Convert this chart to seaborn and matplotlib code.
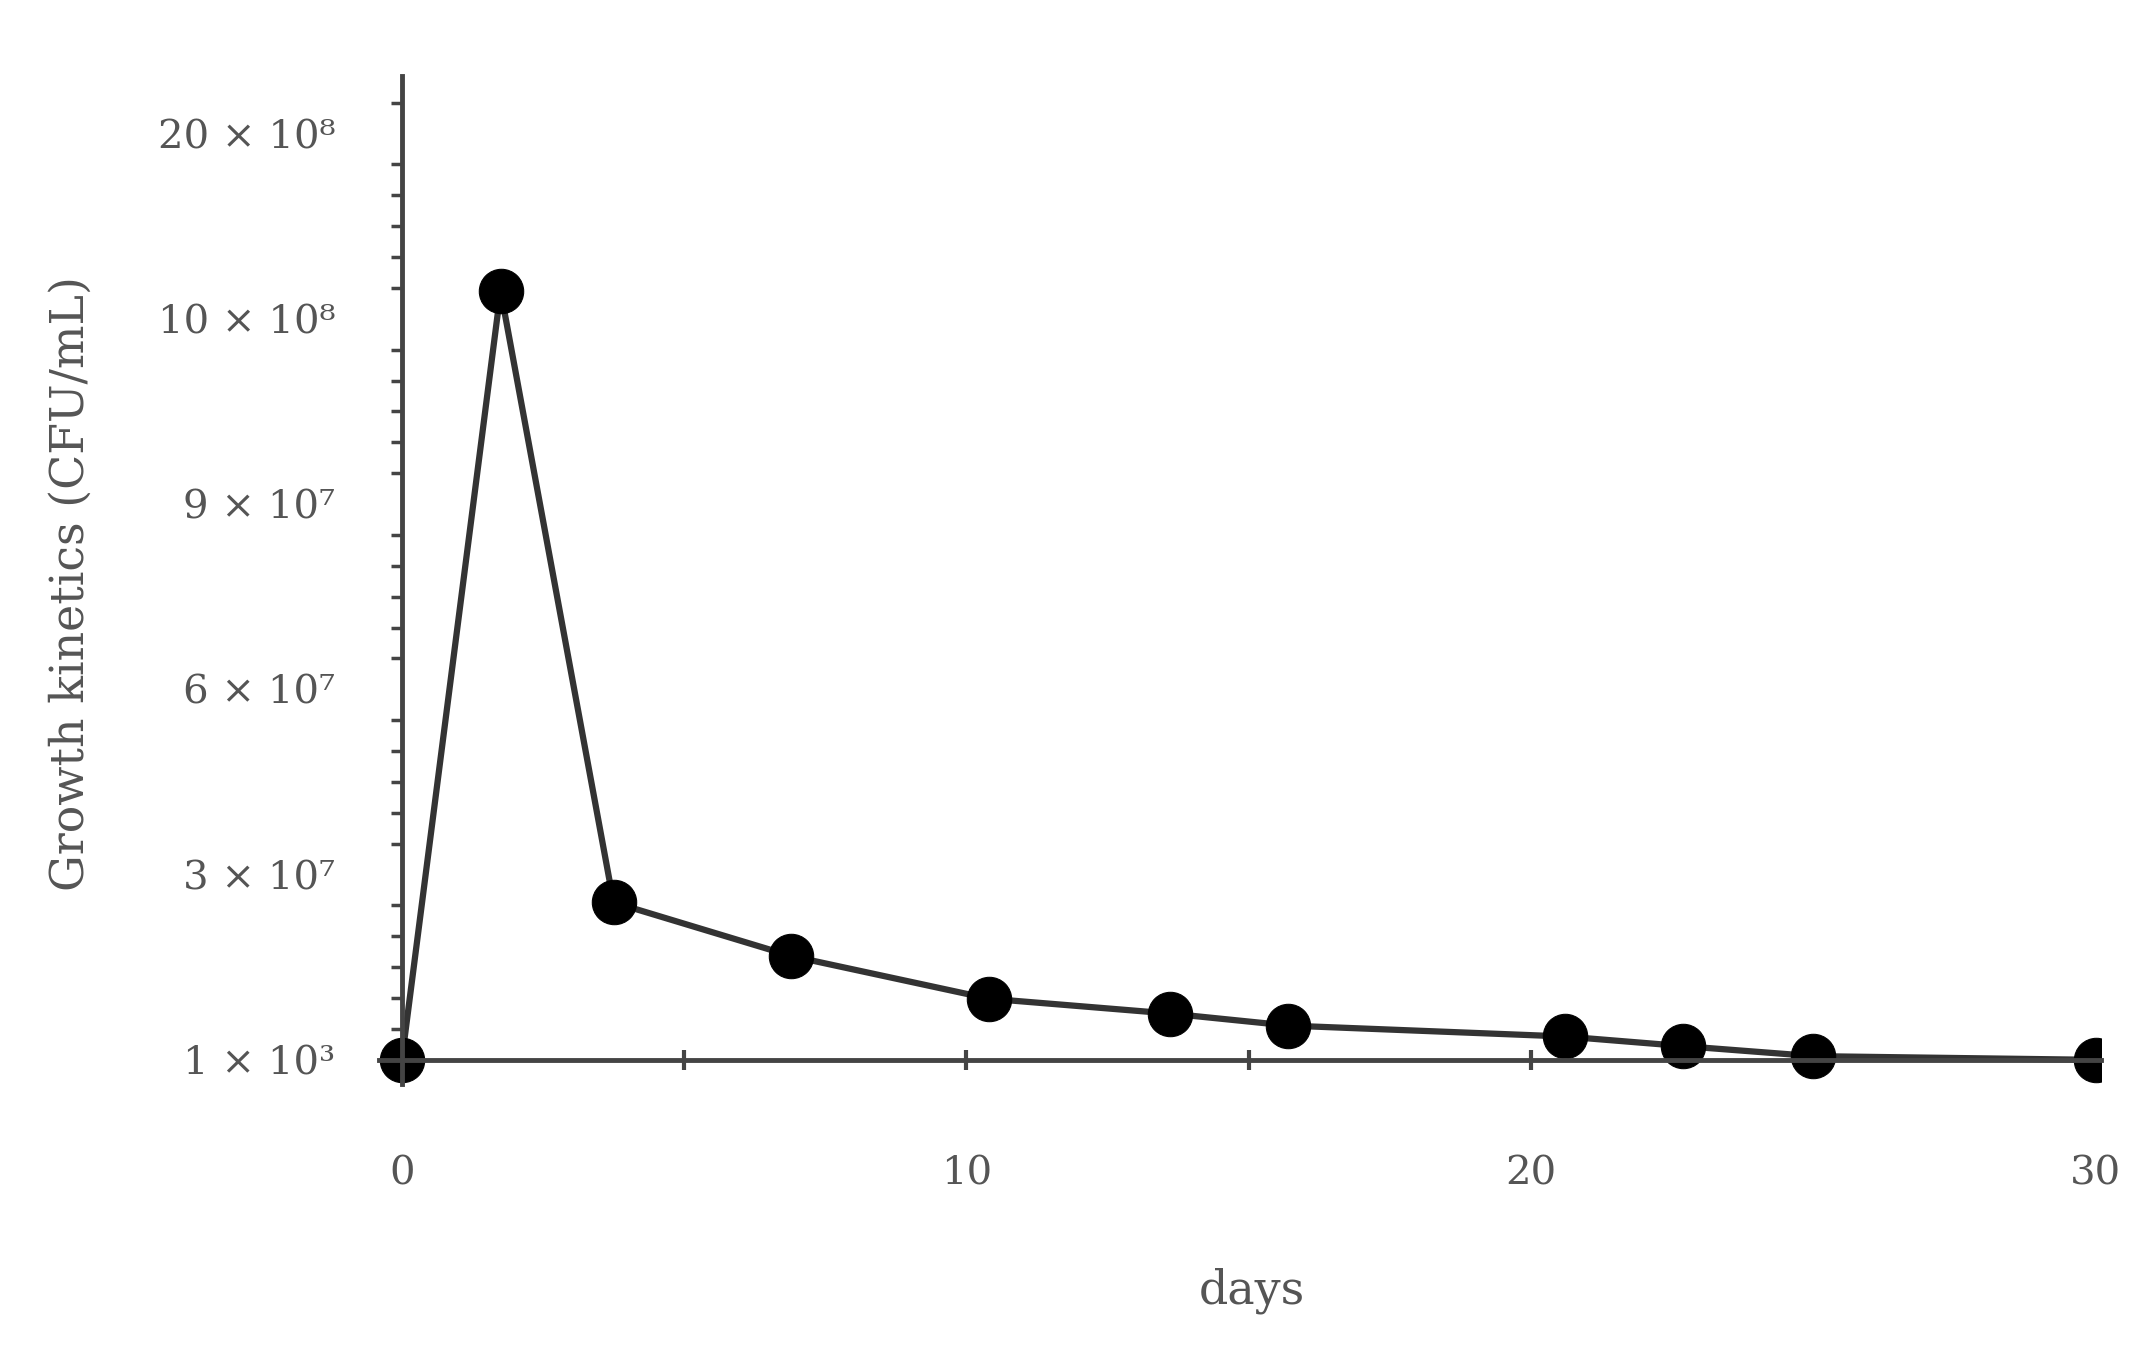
import matplotlib
matplotlib.use("Agg")
import matplotlib.pyplot as plt
import seaborn as sns
import pandas as pd
import numpy as np

days = [0, 1.75, 3.75, 6.9, 10.4, 13.6, 15.7, 20.6, 22.7, 25.0, 30]
level = [0, 4.15, 0.85, 0.56, 0.33, 0.25, 0.185, 0.126, 0.074, 0.02, 0]
ytick_labels = ["1 × 10³", "3 × 10⁷", "6 × 10⁷", "9 × 10⁷", "10 × 10⁸", "20 × 10⁸"]
xtick_labels = ["0", "10", "20", "30"]

sns.set_style("white")
plt.rcParams['font.family'] = ['DejaVu Serif']
grey = "#555555"

fig = plt.figure(figsize=(21.42, 13.59), dpi=100)
ax = fig.add_axes([0.176, 0.202, 0.805, 0.742])
df = pd.DataFrame({"days": days, "level": level})
sns.lineplot(data=df, x="days", y="level", ax=ax, color="#333333", linewidth=4.5,
             marker="o", markersize=32, markeredgecolor="black", markerfacecolor="black")

ax.set_xlim(-0.44, 30.1)
ax.set_ylim(-0.133, 5.31)
for s in ["top", "right"]:
    ax.spines[s].set_visible(False)
ax.spines["bottom"].set_position(("data", 0))
ax.spines["left"].set_position(("data", 0))
ax.spines["bottom"].set_bounds(-0.4, 30.1)
for s in ["bottom", "left"]:
    ax.spines[s].set_color("#444444")
    ax.spines[s].set_linewidth(3.5)

ax.set_yticks(range(6))
ax.set_yticklabels(ytick_labels, fontsize=29, color=grey)
ax.set_yticks(np.arange(0, 5.31, 1/6), minor=True)
ax.tick_params(axis="y", which="major", direction="out", length=10, width=3, color="#444444", pad=38)
ax.tick_params(axis="y", which="minor", direction="out", length=8, width=2.5, color="#444444", left=True)

ax.set_xticks([0, 10, 20, 30])
ax.set_xticklabels(xtick_labels, fontsize=29, color=grey)
ax.set_xticks([5, 15, 25], minor=True)
ax.tick_params(axis="x", which="both", direction="inout", length=14, width=3, color="#444444",
               pad=62, bottom=True)

ax.set_xlabel("")
ax.set_ylabel("")
fig.text(912 * 1.373 / 2142, 1 - 940 * 1.373 / 1359, "days", fontsize=33, color=grey,
         ha="center", va="center")
fig.text(52 * 1.373 / 2142, 1 - 425 * 1.373 / 1359, "Growth kinetics (CFU/mL)", fontsize=33,
         color=grey, rotation=90, ha="center", va="center")

fig.savefig("out.png", dpi=100)
